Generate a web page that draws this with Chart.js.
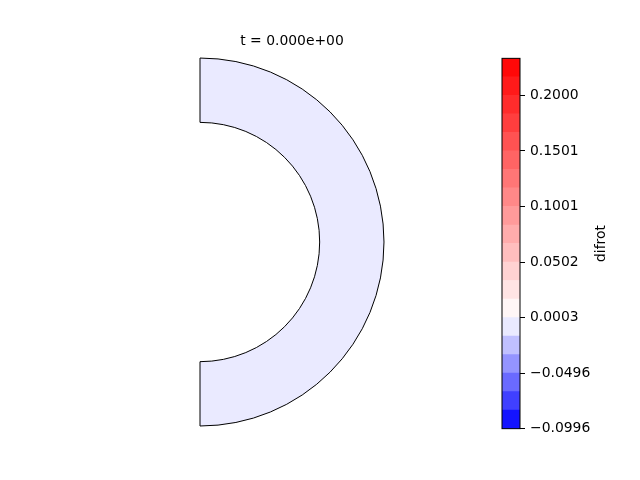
<!DOCTYPE html>
<html>
<head>
<meta charset="utf-8">
<script src="https://cdn.jsdelivr.net/npm/chart.js@4"></script>
<style>
  html, body { margin: 0; padding: 0; background: #fff; }
  body { width: 640px; height: 480px; position: relative; overflow: hidden; }
  #shellBox { position: absolute; left: 180px; top: 28px; width: 224px; height: 409px; }
  #barBox { position: absolute; left: 500px; top: 45px; width: 140px; height: 397px; }
</style>
</head>
<body>
<div id="shellBox"><canvas id="shellChart"></canvas></div>
<div id="barBox"><canvas id="colorbar"></canvas></div>
<script>
// contour levels of the colorbar (21 edges, 20 bands)
const levels = [-0.0996, -0.0830, -0.0663, -0.0497, -0.0330, -0.0164, 0.0003,
                0.0169, 0.0336, 0.0502, 0.0669, 0.0835, 0.1002, 0.1168,
                0.1335, 0.1501, 0.1667, 0.1834, 0.2000, 0.2167, 0.2333];
const tickValues = [-0.0996, -0.0497, 0.0003, 0.0502, 0.1002, 0.1501, 0.2000];
const tickLabels = ['\u22120.0996', '\u22120.0496', '0.0003', '0.0502', '0.1001', '0.1501', '0.2000'];

// the shell: one cell, half annulus, difrot value at t = 0
const shellCells = ['shell'];
const shellSpan = [180];
const difrot = [0.0];
const timeLabel = 't = 0.000e+00';
const fieldName = 'difrot';

Chart.defaults.font.family = '"DejaVu Sans", sans-serif';
Chart.defaults.font.size = 13.9;
Chart.defaults.color = '#000';

// bwr colormap with a two-slope norm centred on zero
function bwr(x) {
    const i = Math.min(255, Math.max(0, Math.floor(x * 256)));
    const t = i / 255;
    if (t <= 0.5) {
        const c = Math.round(2 * t * 255);
        return `rgb(${c}, ${c}, 255)`;
    }
    const c = Math.round((2 - 2 * t) * 255);
    return `rgb(255, ${c}, ${c})`;
}

function norm(v) {
    const vmin = levels[0];
    const vmax = levels[levels.length - 1];
    if (v < 0) return 0.5 * (v - vmin) / (0 - vmin);
    return 0.5 + 0.5 * v / vmax;
}

function bandColor(k) {
    return bwr(norm((levels[k] + levels[k + 1]) / 2));
}

function colorFor(v) {
    for (let k = 0; k < levels.length - 1; k++) {
        if (v >= levels[k] && v < levels[k + 1]) return bandColor(k);
    }
    return bandColor(levels.length - 2);
}

// half annulus
new Chart(document.getElementById('shellChart'), {
    type: 'doughnut',
    data: {
        labels: shellCells,
        datasets: [{
            data: shellSpan,
            backgroundColor: difrot.map(colorFor),
            borderColor: '#000',
            borderWidth: 1,
            hoverOffset: 0
        }]
    },
    options: {
        animation: false,
        responsive: true,
        maintainAspectRatio: false,
        rotation: 0,
        circumference: 180,
        cutout: '65.04%',
        layout: { padding: { left: 19.5, right: 19.5, top: 4.66, bottom: 10.5 } },
        plugins: {
            legend: { display: false },
            tooltip: { enabled: false },
            title: {
                display: true,
                text: timeLabel,
                color: '#000',
                font: { size: 13.9, weight: 'normal' },
                padding: { top: 0, bottom: 8.2 }
            }
        }
    }
});

// colorbar
const outline = {
    id: 'outline',
    afterDatasetsDraw(chart) {
        const a = chart.chartArea;
        const ctx = chart.ctx;
        ctx.save();
        ctx.strokeStyle = '#000';
        ctx.lineWidth = 1;
        ctx.strokeRect(a.left, a.top, a.right - a.left, a.bottom - a.top);
        ctx.restore();
    }
};

const sideLabel = {
    id: 'sideLabel',
    afterDraw(chart) {
        const a = chart.chartArea;
        const ctx = chart.ctx;
        ctx.save();
        ctx.translate(a.right + 81, (a.top + a.bottom) / 2);
        ctx.rotate(-Math.PI / 2);
        ctx.font = '13.9px "DejaVu Sans"';
        ctx.fillStyle = '#000';
        ctx.textAlign = 'center';
        ctx.textBaseline = 'middle';
        ctx.fillText(fieldName, 0, 0);
        ctx.restore();
    }
};

const bands = levels.slice(0, -1).map((lo, k) => ({
    data: [[lo, levels[k + 1]]],
    backgroundColor: bandColor(k),
    borderWidth: 0,
    grouped: false,
    barPercentage: 1,
    categoryPercentage: 1
}));

new Chart(document.getElementById('colorbar'), {
    type: 'bar',
    data: { labels: [''], datasets: bands },
    options: {
        animation: false,
        responsive: true,
        maintainAspectRatio: false,
        layout: { padding: { left: 2, right: 0, top: 9, bottom: 9 } },
        plugins: { legend: { display: false }, tooltip: { enabled: false } },
        scales: {
            x: { display: false },
            y: {
                position: 'right',
                min: levels[0],
                max: levels[levels.length - 1],
                afterBuildTicks: function(scale) {
                    scale.ticks = tickValues.map(v => ({ value: v }));
                },
                afterFit: function(scale) {
                    scale.width = 120;
                },
                grid: { drawOnChartArea: false, tickLength: 5, tickColor: '#000', tickWidth: 1 },
                border: { display: false },
                ticks: {
                    color: '#000',
                    padding: 5,
                    callback: function(value, index) {
                        return tickLabels[index];
                    }
                }
            }
        }
    },
    plugins: [outline, sideLabel]
});
</script>
</body>
</html>
